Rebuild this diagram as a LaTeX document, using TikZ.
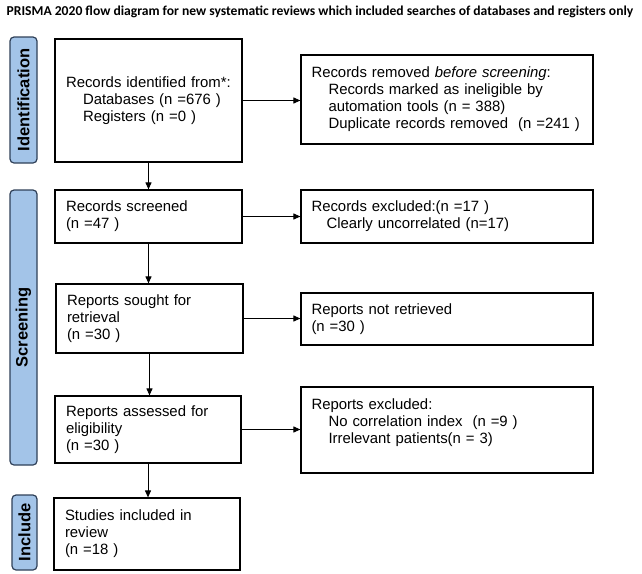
\documentclass[tikz,border=0pt]{standalone}
\usepackage{fontspec}
\setmainfont{Liberation Sans}
\newfontfamily\titlefont{Carlito}
\usetikzlibrary{arrows.meta}
\definecolor{labfill}{HTML}{A3C4E8}
\definecolor{labdraw}{HTML}{2F4058}
\newcommand{\ind}{\hspace*{17pt}}
\begin{document}
\begin{tikzpicture}[x=1pt,y=1pt,
  box/.style={draw=black,line width=1.2pt,inner xsep=11pt,inner ysep=0pt,align=left,
    font=\fontsize{14.9}{17}\selectfont,anchor=center},
  sidelab/.style={draw=labdraw,fill=labfill,line width=1.2pt,rounded corners=4pt,rotate=90,
    font=\fontsize{16.5}{18}\selectfont\bfseries,inner sep=0pt,anchor=center},
  arr/.style={line width=1pt,-{Triangle[length=7pt,width=6pt]}}]
\useasboundingbox (0,0) rectangle (642,-573);
\node[font=\titlefont\bfseries\fontsize{13.6}{15}\selectfont,anchor=center] (title) at (320,-12)
  {PRISMA 2020 flow diagram for new systematic reviews which included searches of databases and registers only};
% side labels
\node[sidelab,minimum width=126pt,minimum height=27pt] (lid) at (23.5,-100) {Identification};
\node[sidelab,minimum width=275pt,minimum height=27pt] (lsc) at (23.5,-327.5) {Screening};
\node[sidelab,minimum width=75pt,minimum height=25pt] (lin) at (24.5,-532.5) {Include};
% left column
\node[box,minimum width=187pt,minimum height=123pt,text width=165pt] (idb) at (148.5,-100.5)
  {Records identified from*:\\\ind Databases (n =676 )\\\ind Registers (n =0 )};
\node[box,minimum width=187pt,minimum height=53pt,text width=165pt] (scr) at (148.5,-216.5)
  {Records screened\\(n =47 )};
\node[box,minimum width=187pt,minimum height=69pt,text width=165pt] (sou) at (149.5,-318.5)
  {Reports sought for\\retrieval\\(n =30 )};
\node[box,minimum width=186pt,minimum height=67pt,text width=164pt] (ass) at (148,-429.5)
  {Reports assessed for\\eligibility\\(n =30 )};
\node[box,minimum width=186pt,minimum height=72pt,text width=164pt] (inc) at (147,-534)
  {Studies included in\\review\\(n =18 )};
% right column
\node[box,inner xsep=10.5pt,minimum width=292pt,minimum height=89pt,text width=271pt] (rem) at (447,-99.5)
  {Records removed \emph{before screening}:\\\ind Records marked as ineligible by\\\ind automation tools (n = 388)\\\ind Duplicate records removed\ \ (n =241 )};
\node[box,inner xsep=10.5pt,minimum width=292pt,minimum height=53pt,text width=271pt] (ex1) at (447,-216.5)
  {Records excluded:(n =17 )\\\hspace*{15pt}Clearly uncorrelated (n=17)};
\node[box,inner xsep=10.5pt,minimum width=292pt,minimum height=52pt,text width=271pt] (nre) at (447,-319)
  {Reports not retrieved\\(n =30 )};
\node[box,inner xsep=10.5pt,minimum width=292pt,minimum height=86pt,text width=271pt] (ex2) at (447,-430)
  {Reports excluded:\\\ind No correlation index\ \ (n =9 )\\\ind Irrelevant patients(n = 3)\\\mbox{}};
% arrows
\draw[arr] (idb.east) -- (idb.east -| rem.west);
\draw[arr] (scr.east) -- (scr.east -| ex1.west);
\draw[arr] (sou.east) -- (sou.east -| nre.west);
\draw[arr] (ass.east) -- (ass.east -| ex2.west);
\draw[arr] (idb.south) -- (idb.south |- scr.north);
\draw[arr] (scr.south) -- (scr.south |- sou.north);
\draw[arr] (sou.south) -- (sou.south |- ass.north);
\draw[arr] (ass.south) -- (ass.south |- inc.north);
\end{tikzpicture}
\end{document}
